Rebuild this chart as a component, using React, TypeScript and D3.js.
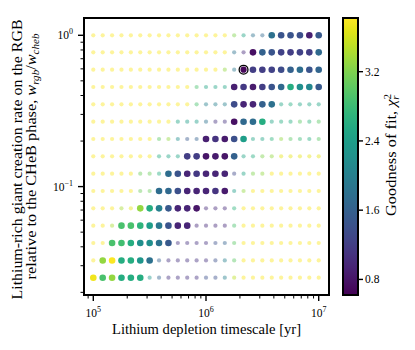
import React from 'react'
import * as d3 from 'd3'

// grid of lithium depletion timescales [yr] (columns) and rate ratios (rows, top to bottom)
const timescales = [
  1.0e5, 1.212e5, 1.468e5, 1.778e5, 2.154e5, 2.61e5, 3.162e5, 3.831e5, 4.642e5, 5.623e5, 6.813e5, 8.254e5,
  1.0e6, 1.212e6, 1.468e6, 1.778e6, 2.154e6, 2.61e6, 3.162e6, 3.831e6, 4.642e6, 5.623e6, 6.813e6, 8.254e6, 1.0e7,
]
const ratios = [1.0, 0.7714, 0.5925, 0.4551, 0.3496, 0.2685, 0.2063, 0.1585, 0.1217, 0.0935, 0.0718, 0.0552, 0.0424, 0.0325, 0.025]

// reduced chi2 per row (same order as ratios), 25 values each
const chi2 = [
  [3.8, 3.8, 3.8, 3.8, 3.8, 3.8, 3.8, 3.8, 3.8, 3.8, 3.8, 3.8, 3.8, 3.8, 3.8, 3.2, 2.5, 1.8, 1.7, 1.8, 1.45, 1.45, 1.4, 0.9, 1.5],
  [3.8, 3.8, 3.8, 3.8, 3.8, 3.8, 3.8, 3.8, 3.8, 3.8, 3.8, 3.8, 3.8, 3.8, 3.8, 1.8, 1.0, 0.75, 1.6, 1.45, 1.25, 1.2, 1.25, 1.2, 1.7],
  [3.8, 3.8, 3.8, 3.8, 3.8, 3.8, 3.8, 3.8, 3.8, 3.8, 3.8, 3.8, 3.8, 3.8, 3.3, 1.9, 0.68, 1.2, 1.2, 1.25, 1.35, 1.6, 1.75, 1.45, 1.65],
  [3.8, 3.8, 3.8, 3.8, 3.8, 3.8, 3.8, 3.8, 3.8, 3.8, 3.8, 2.9, 2.5, 2.5, 2.5, 0.9, 1.15, 0.85, 1.2, 1.45, 1.7, 2.6, 2.2, 2.1, 1.5],
  [3.8, 3.8, 3.8, 3.8, 3.8, 3.8, 3.8, 3.8, 3.8, 3.8, 3.8, 2.9, 2.0, 2.0, 2.0, 1.35, 0.95, 0.95, 1.6, 1.8, 2.5, 2.6, 2.5, 2.5, 2.5],
  [3.8, 3.8, 3.8, 3.8, 3.8, 3.8, 3.8, 3.8, 3.8, 2.5, 2.4, 2.4, 1.8, 1.1, 1.1, 0.75, 1.7, 1.75, 2.6, 2.5, 2.6, 2.6, 3.0, 2.7, 3.0],
  [3.8, 3.8, 3.8, 3.8, 3.8, 3.8, 3.8, 3.0, 3.3, 2.2, 1.5, 1.6, 0.9, 1.1, 0.85, 1.4, 2.4, 2.5, 2.5, 2.7, 3.3, 3.0, 2.8, 2.6, 3.0],
  [3.8, 3.8, 3.8, 3.8, 3.8, 3.8, 3.8, 2.6, 2.5, 2.5, 1.2, 1.2, 0.8, 0.85, 0.8, 1.6, 2.5, 2.6, 3.2, 3.3, 3.7, 3.7, 3.7, 3.7, 3.7],
  [3.8, 3.8, 3.8, 3.8, 3.8, 3.1, 3.1, 2.6, 1.75, 1.45, 0.95, 1.15, 0.95, 0.95, 0.95, 1.3, 2.5, 3.2, 3.3, 3.8, 3.8, 3.8, 3.8, 3.8, 3.8],
  [3.8, 3.8, 3.8, 3.8, 3.8, 3.1, 3.1, 1.75, 1.7, 1.4, 0.95, 0.95, 0.95, 1.1, 0.85, 2.4, 3.3, 3.8, 3.8, 3.8, 3.8, 3.8, 3.8, 3.8, 3.8],
  [3.8, 3.8, 3.8, 3.4, 3.7, 3.3, 2.6, 2.0, 1.5, 0.95, 0.95, 0.8, 1.0, 1.0, 1.0, 2.7, 3.8, 3.8, 3.8, 3.8, 3.8, 3.8, 3.8, 3.8, 3.8],
  [3.8, 3.8, 3.4, 2.9, 2.9, 2.7, 2.4, 1.9, 1.45, 0.95, 0.95, 1.0, 1.0, 1.0, 1.0, 2.9, 3.8, 3.8, 3.8, 3.8, 3.8, 3.8, 3.8, 3.8, 3.8],
  [3.8, 3.8, 2.9, 2.85, 2.6, 2.2, 2.2, 1.8, 1.5, 1.1, 1.1, 1.1, 1.1, 1.4, 1.6, 3.0, 3.8, 3.8, 3.8, 3.8, 3.8, 3.8, 3.8, 3.8, 3.8],
  [3.8, 3.3, 3.8, 2.6, 2.6, 2.3, 1.8, 1.6, 1.1, 1.1, 1.1, 1.1, 1.1, 1.4, 2.0, 3.0, 3.8, 3.8, 3.8, 3.8, 3.8, 3.8, 3.8, 3.8, 3.8],
  [3.75, 2.9, 3.3, 2.6, 2.6, 2.6, 2.3, 1.6, 1.1, 1.1, 1.1, 1.1, 1.4, 1.4, 2.0, 3.5, 3.8, 3.8, 3.8, 3.8, 3.8, 3.8, 3.8, 3.8, 3.8],
]
// columns (inclusive) of the accepted models in each row
const goodStart = [19, 17, 16, 15, 15, 15, 12, 10, 8, 7, 5, 3, 2, 1, 0]
const goodEnd = [24, 24, 24, 24, 19, 18, 16, 15, 14, 14, 11, 10, 8, 6, 5]
const bestRow = 2
const bestCol = 16

const cbTicks = [0.8, 1.6, 2.4, 3.2]

const W = 415
const H = 350
const L = 84, R = 329, T = 18, B = 295
const CBL = 343, CBR = 358
const font = 'Liberation Serif, DejaVu Serif, serif'

export default function App() {
  const x = d3.scaleLog().domain([82700, 1.234e7]).range([L, R])
  const y = d3.scaleLog().domain([0.01921, 1.301]).range([B, T])
  const color = d3.scaleSequential(d3.interpolateViridis).domain([0.62, 3.82]).clamp(true)
  const cbY = d3.scaleLinear().domain([0.62, 3.82]).range([B, T])

  const isPow = (v: number) => Math.abs(Math.log10(v) - Math.round(Math.log10(v))) < 1e-6
  const xt = x.ticks()
  const yt = y.ticks()

  const faded: JSX.Element[] = []
  const good: JSX.Element[] = []
  ratios.forEach((r, i) => {
    timescales.forEach((t, k) => {
      const v = chi2[i][k]
      const ok = k >= goodStart[i] && k <= goodEnd[i]
      if (i === bestRow && k === bestCol) return
      if (ok) good.push(<circle key={`g${i}-${k}`} cx={x(t)} cy={y(r)} r={3.3} fill={color(v)} />)
      else faded.push(<circle key={`f${i}-${k}`} cx={x(t)} cy={y(r)} r={2.1} fill={color(v)} fillOpacity={0.45} />)
    })
  })

  const stops = d3.range(0, 1.0001, 0.05)
  const mid = (T + B) / 2

  return (
    <svg width={W} height={H} style={{ position: 'absolute', left: 0, top: 0, background: '#fff' }} fontFamily={font}>
      <defs>
        <linearGradient id="cb" x1="0" y1="1" x2="0" y2="0">
          {stops.map(s => <stop key={s} offset={s} stopColor={d3.interpolateViridis(s)} />)}
        </linearGradient>
      </defs>

      {faded}
      {good}
      <circle cx={x(timescales[bestCol])} cy={y(ratios[bestRow])} r={4.4} fill="#fff" stroke="#000" strokeWidth={1.3} />
      <circle cx={x(timescales[bestCol])} cy={y(ratios[bestRow])} r={3.1} fill={color(chi2[bestRow][bestCol])} />

      <rect x={L} y={T} width={R - L} height={B - T} fill="none" stroke="#000" strokeWidth={2} />

      {/* x ticks */}
      {xt.map(t => (
        <line key={`xt${t}`} x1={x(t)} x2={x(t)} y1={B} y2={B + (isPow(t) ? 6 : 3.5)} stroke="#000" strokeWidth={isPow(t) ? 1.4 : 1} />
      ))}
      {xt.filter(isPow).map(t => (
        <text key={`xl${t}`} x={x(t)} y={317} textAnchor="middle" fontSize={11.5}>
          10<tspan dy={-5} fontSize={8}>{Math.round(Math.log10(t))}</tspan>
        </text>
      ))}
      <text x={(L + R) / 2} y={334} textAnchor="middle" fontSize={14} textLength={189} lengthAdjust="spacingAndGlyphs">
        Lithium depletion timescale [yr]
      </text>

      {/* y ticks */}
      {yt.map(t => (
        <line key={`yt${t}`} x1={L} x2={L - (isPow(t) ? 6 : 3.5)} y1={y(t)} y2={y(t)} stroke="#000" strokeWidth={isPow(t) ? 1.4 : 1} />
      ))}
      {yt.filter(isPow).map(t => (
        <text key={`yl${t}`} x={73} y={y(t) + 4} textAnchor="end" fontSize={11.5}>
          10<tspan dy={-5} fontSize={8}>{Math.round(Math.log10(t)) < 0 ? '\u22121' : '0'}</tspan>
        </text>
      ))}
      <text transform={`translate(22,${mid + 3}) rotate(-90)`} textAnchor="middle" fontSize={14} textLength={280} lengthAdjust="spacingAndGlyphs">
        Lithium-rich giant creation rate on the RGB
      </text>
      <text transform={`translate(36,${mid}) rotate(-90)`} textAnchor="middle" fontSize={14} textLength={246} lengthAdjust="spacingAndGlyphs">
        relative to the CHeB phase, <tspan fontStyle="italic">w</tspan>
        <tspan fontSize={9.5} dy={2.5} fontStyle="italic">rgb</tspan>
        <tspan dy={-2.5}>/</tspan>
        <tspan fontStyle="italic">w</tspan>
        <tspan fontSize={9.5} dy={2.5} fontStyle="italic">cheb</tspan>
      </text>

      {/* colorbar */}
      <rect x={CBL} y={T} width={CBR - CBL} height={B - T} fill="url(#cb)" stroke="#000" strokeWidth={2} />
      {cbTicks.map(t => (
        <g key={`cb${t}`}>
          <line x1={CBR} x2={CBR + 5} y1={cbY(t)} y2={cbY(t)} stroke="#000" strokeWidth={1.4} />
          <text x={CBR + 7} y={cbY(t) + 4} fontSize={11.5}>{t.toFixed(1)}</text>
        </g>
      ))}
      <text transform={`translate(396,155) rotate(-90)`} textAnchor="middle" fontSize={14} textLength={122} lengthAdjust="spacingAndGlyphs">
        Goodness of fit, <tspan fontStyle="italic">χ</tspan>
        <tspan fontSize={9.5} dy={-5}>2</tspan>
        <tspan fontSize={9.5} dx={-5} dy={8} fontStyle="italic">r</tspan>
      </text>
    </svg>
  )
}
